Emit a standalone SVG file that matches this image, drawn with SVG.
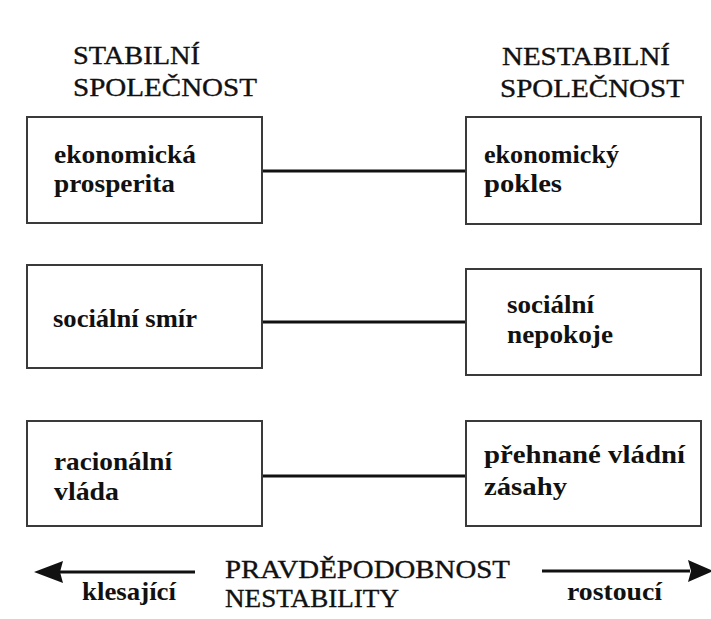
<svg xmlns="http://www.w3.org/2000/svg" width="711" height="619" viewBox="0 0 711 619">
<style>
.box{fill:#fff;stroke:#3a3a3a;stroke-width:2}
.head{font-family:"Liberation Serif","Times New Roman",serif;font-size:25px;fill:#111;stroke:#111;stroke-width:0.35}
.lbl{font-family:"Liberation Serif","Times New Roman",serif;font-size:25px;font-weight:bold;fill:#111}
.conn{stroke:#111;stroke-width:3;fill:none}
</style>
<rect width="711" height="619" fill="#fff"/>
<g id="headings">
<text class="head" x="73" y="64" textLength="127" lengthAdjust="spacingAndGlyphs">STABILNÍ</text>
<text class="head" x="73" y="96" textLength="184" lengthAdjust="spacingAndGlyphs">SPOLEČNOST</text>
<text class="head" x="502" y="65" textLength="168" lengthAdjust="spacingAndGlyphs">NESTABILNÍ</text>
<text class="head" x="500" y="97" textLength="184" lengthAdjust="spacingAndGlyphs">SPOLEČNOST</text>
</g>
<g id="connectors">
<line class="conn" x1="262" y1="171" x2="466" y2="171"/>
<line class="conn" x1="262" y1="322" x2="466" y2="322"/>
<line class="conn" x1="262" y1="476" x2="466" y2="476"/>
</g>
<g id="n1">
<rect class="box" x="27" y="117" width="235" height="106"/>
<text class="lbl" x="54" y="163" textLength="142" lengthAdjust="spacingAndGlyphs">ekonomická</text>
<text class="lbl" x="54" y="192" textLength="121" lengthAdjust="spacingAndGlyphs">prosperita</text>
</g>
<g id="n2">
<rect class="box" x="466" y="117" width="235" height="107"/>
<text class="lbl" x="484" y="163" textLength="135" lengthAdjust="spacingAndGlyphs">ekonomický</text>
<text class="lbl" x="484" y="192" textLength="78" lengthAdjust="spacingAndGlyphs">pokles</text>
</g>
<g id="n3">
<rect class="box" x="27" y="265" width="235" height="103"/>
<text class="lbl" x="53" y="327" textLength="144" lengthAdjust="spacingAndGlyphs">sociální smír</text>
</g>
<g id="n4">
<rect class="box" x="466" y="269" width="235" height="106"/>
<text class="lbl" x="507" y="313" textLength="87" lengthAdjust="spacingAndGlyphs">sociální</text>
<text class="lbl" x="507" y="343" textLength="106" lengthAdjust="spacingAndGlyphs">nepokoje</text>
</g>
<g id="n5">
<rect class="box" x="27" y="421" width="235" height="105"/>
<text class="lbl" x="54" y="470" textLength="118" lengthAdjust="spacingAndGlyphs">racionální</text>
<text class="lbl" x="54" y="500" textLength="65" lengthAdjust="spacingAndGlyphs">vláda</text>
</g>
<g id="n6">
<rect class="box" x="466" y="421" width="235" height="105"/>
<text class="lbl" x="484" y="463" textLength="201" lengthAdjust="spacingAndGlyphs">přehnané vládní</text>
<text class="lbl" x="484" y="495" textLength="83" lengthAdjust="spacingAndGlyphs">zásahy</text>
</g>
<g id="axis">
<line x1="60" y1="572" x2="195" y2="572" stroke="#111" stroke-width="3"/>
<polygon points="34,572 63,561 60,572 63,583" fill="#111"/>
<line x1="542" y1="571" x2="690" y2="571" stroke="#111" stroke-width="3"/>
<polygon points="713,571 688,560 691,571 688,582" fill="#111"/>
<text class="head" x="225" y="578" textLength="285" lengthAdjust="spacingAndGlyphs">PRAVDĚPODOBNOST</text>
<text class="head" x="225" y="607" textLength="174" lengthAdjust="spacingAndGlyphs">NESTABILITY</text>
<text class="lbl" x="82" y="600" textLength="94" lengthAdjust="spacingAndGlyphs">klesající</text>
<text class="lbl" x="567" y="600" textLength="95" lengthAdjust="spacingAndGlyphs">rostoucí</text>
</g>
</svg>
